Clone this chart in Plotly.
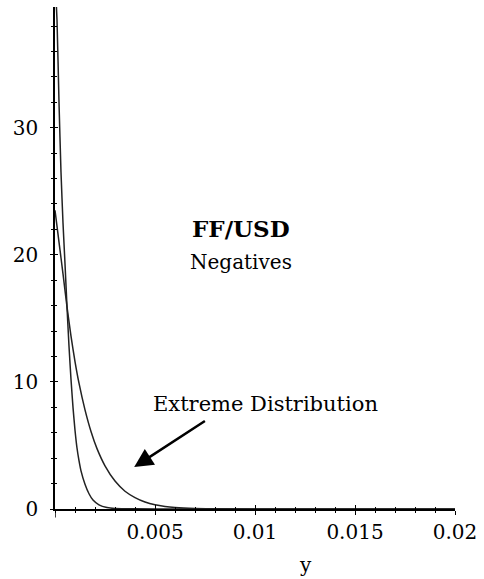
import plotly.graph_objects as go

# ---- data ----
x_steep = [0, 0.0001, 0.0002, 0.0003, 0.0004, 0.0005, 0.0006, 0.0007, 0.0008, 0.0009,
           0.001, 0.0011, 0.0012, 0.0013, 0.0015, 0.0017, 0.0019, 0.0022, 0.0026, 0.003,
           0.004, 0.006, 0.02]
y_steep = [42, 38.5, 32, 26.5, 22.5, 19.3, 15.9, 12.8, 10.2, 8.0,
           6.2, 4.8, 3.8, 3.0, 1.95, 1.2, 0.7, 0.32, 0.11, 0.04,
           0.01, 0, 0]

x_extreme = [0, 0.0002, 0.0004, 0.0006, 0.0008, 0.001, 0.0012, 0.0015, 0.0018, 0.0021,
             0.0025, 0.003, 0.0035, 0.004, 0.0045, 0.005, 0.0055, 0.006, 0.007, 0.008, 0.02]
y_extreme = [23.5, 21.0, 18.5, 15.9, 13.6, 11.6, 9.9, 7.8, 6.1, 4.75,
             3.4, 2.2, 1.4, 0.9, 0.55, 0.33, 0.2, 0.12, 0.04, 0.01, 0]

x_tickvals = [0.005, 0.01, 0.015, 0.02]
x_ticktext = ["0.005", "0.01", "0.015", "0.02"]
y_tickvals = [0, 10, 20, 30]
y_ticktext = ["0", "10", "20", "30"]

title_bold = "FF/USD"
title_sub = "Negatives"
arrow_label = "Extreme Distribution"
x_title = "y"

FONT = "DejaVu Serif"
X_RANGE = [0, 0.02]
Y_RANGE = [0, 39.5]

fig = go.Figure()
line_style = dict(color="#222222", width=1.5, shape="spline", smoothing=0.5)
fig.add_trace(go.Scatter(x=x_steep, y=y_steep, mode="lines", line=line_style,
                         showlegend=False, hoverinfo="skip"))
fig.add_trace(go.Scatter(x=x_extreme, y=y_extreme, mode="lines", line=line_style,
                         showlegend=False, hoverinfo="skip"))
# invisible trace to activate overlay axes (for ticks crossing the axis lines)
fig.add_trace(go.Scatter(x=[None], y=[None], xaxis="x2", yaxis="y2",
                         mode="lines", showlegend=False, hoverinfo="skip"))

common = dict(showgrid=False, zeroline=False, showline=True, linecolor="black",
              linewidth=1.5, tickcolor="black", tickwidth=1.2)

fig.update_layout(
    width=484, height=579,
    margin=dict(l=55, r=24, t=7, b=70),
    paper_bgcolor="white", plot_bgcolor="white",
    font=dict(family=FONT, size=20, color="black"),
    xaxis=dict(range=X_RANGE, tickvals=x_tickvals, ticktext=x_ticktext,
               ticks="outside", ticklen=4, ticklabelstandoff=0,
               minor=dict(dtick=0.001, tick0=0, ticks="outside", ticklen=2,
                          tickcolor="black", tickwidth=1),
               tickfont=dict(family=FONT, size=20), **common),
    yaxis=dict(range=Y_RANGE, tickvals=y_tickvals, ticktext=y_ticktext,
               ticks="outside", ticklen=3, ticklabelstandoff=8,
               minor=dict(dtick=2, tick0=0, ticks="outside", ticklen=2,
                          tickcolor="black", tickwidth=1),
               tickfont=dict(family=FONT, size=20), **common),
    xaxis2=dict(range=X_RANGE, overlaying="x", anchor="y2", side="bottom",
                tickvals=x_tickvals, ticks="inside", ticklen=4, showticklabels=False,
                minor=dict(dtick=0.001, tick0=0, ticks="inside", ticklen=2,
                           tickcolor="black", tickwidth=1), **common),
    yaxis2=dict(range=Y_RANGE, overlaying="y", anchor="x2", side="left",
                tickvals=y_tickvals, ticks="inside", ticklen=3, showticklabels=False,
                minor=dict(dtick=2, tick0=0, ticks="inside", ticklen=2,
                           tickcolor="black", tickwidth=1), **common),
)

# y-axis tail below the x-axis
fig.add_shape(type="line", xref="x", yref="paper", x0=0, x1=0, y0=0, y1=-0.017,
              line=dict(color="black", width=1.5))

fig.add_annotation(x=0.0093, y=22.05, xref="x", yref="y", text="<b>" + title_bold + "</b>",
                   showarrow=False, font=dict(family=FONT, size=23, color="black"))
fig.add_annotation(x=0.0093, y=19.45, xref="x", yref="y", text=title_sub,
                   showarrow=False, font=dict(family=FONT, size=20, color="black"))
fig.add_annotation(x=0.01054, y=8.27, xref="x", yref="y", text=arrow_label,
                   showarrow=False, font=dict(family=FONT, size=21, color="black"))
fig.add_annotation(x=0.00396, y=3.3, ax=0.00757, ay=7.0, xref="x", yref="y",
                   axref="x", ayref="y", text="", showarrow=True,
                   arrowhead=2, arrowsize=1.5, arrowwidth=2.5, arrowcolor="black")
fig.add_annotation(x=0.0125, xref="x", y=-0.112, yref="paper", yanchor="middle",
                   text=x_title, showarrow=False,
                   font=dict(family=FONT, size=20, color="black"))

fig.write_html("out.html")
